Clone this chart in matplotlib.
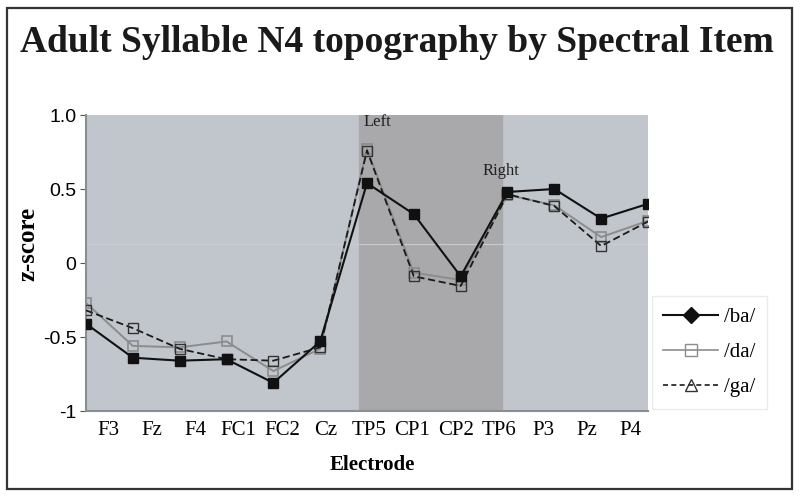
import matplotlib
matplotlib.use("Agg")
import matplotlib.pyplot as plt
from matplotlib.lines import Line2D
from matplotlib.patches import Rectangle

electrodes = ["F3", "Fz", "F4", "FC1", "FC2", "Cz", "TP5", "CP1", "CP2", "TP6", "P3", "Pz", "P4"]
ba = [-0.41, -0.64, -0.66, -0.65, -0.81, -0.53, 0.54, 0.33, -0.09, 0.48, 0.50, 0.30, 0.40]
da = [-0.27, -0.56, -0.57, -0.53, -0.73, -0.58, 0.77, -0.065, -0.115, 0.46, 0.39, 0.175, 0.285]
ga = [-0.32, -0.44, -0.58, -0.65, -0.66, -0.57, 0.76, -0.09, -0.155, 0.465, 0.385, 0.115, 0.28]
yticks = [-1, -0.5, 0, 0.5, 1.0]
yticklabels = ["-1", "-0.5", "0", "0.5", "1.0"]
dark_span = (5.83, 8.88)

W, H = 800, 499
fig = plt.figure(figsize=(W / 100, H / 100), dpi=100)
fig.patch.set_facecolor("white")

# outer frame
fig.add_artist(Rectangle((7 / W, 1 - 489 / H), 785 / W, 481 / H, transform=fig.transFigure,
                         fill=False, edgecolor="#333333", linewidth=1.6))

pos = [86 / W, 1 - 411 / H, (648 - 86) / W, (411 - 115) / H]
ax = fig.add_axes(pos)
ax.set_facecolor("#c1c6cd")
x = list(range(len(electrodes)))
ax.set_xlim(0, len(electrodes) - 1)
ax.set_ylim(-1, 1.0)
ax.axvspan(dark_span[0], dark_span[1], color="#a9a9ab", zorder=0)
ax.axhline(0.13, color="#c9cdd3", lw=0.8, zorder=1)

ax.plot(x, da, color="#8c8c8c", lw=1.4, marker="s", ms=7, mfc="none", mec="#8c8c8c", mew=1.2, zorder=3)
ax.plot(x, ga, color="#1a1a1a", lw=1.3, ls=(0, (4, 2)), marker="s", ms=7, mfc="none", mec="#333333", mew=1.0, zorder=3)
ax.plot(x, ba, color="#111111", lw=1.5, marker="s", ms=7, mfc="#111111", mec="#111111", zorder=4)

for s in ["top", "right"]:
    ax.spines[s].set_visible(False)
for s in ["left", "bottom"]:
    ax.spines[s].set_color("#8a8f96")
    ax.spines[s].set_linewidth(1.5)

ax.set_yticks(yticks)
ax.set_yticklabels(yticklabels, fontfamily="Liberation Sans", fontsize=14)
ax.tick_params(axis="y", length=4, color="#555555", pad=3)
ax.set_xticks(x)
ax.set_xticklabels([])
ax.tick_params(axis="x", length=0)

# category labels (slightly compressed as in the original)
lab = fig.add_axes(pos, frameon=False)
lab.set_xlim(-0.506, len(electrodes) - 1 + 0.414)
lab.set_ylim(-1, 1)
lab.set_yticks([])
lab.set_xticks(x)
lab.set_xticklabels(electrodes, fontfamily="Liberation Serif", fontsize=15)
lab.tick_params(axis="x", length=0, pad=7)
lab.patch.set_visible(False)

ax.set_ylabel("z-score", fontfamily="Liberation Serif", fontweight="bold", fontsize=18)
ax.yaxis.set_label_coords(-0.103, 0.564)
ax.yaxis.label.set_va("center")
ax.set_xlabel("Electrode", fontfamily="Liberation Serif", fontweight="bold", fontsize=15)
ax.xaxis.set_label_coords((372 - 86) / 562, -(465 - 411) / 296)
ax.xaxis.label.set_va("center")

ax.text(5.92, 0.955, "Left", fontfamily="Liberation Serif", fontsize=12, color="#222222", va="center", ha="left")
ax.text(8.87, 0.62, "Right", fontfamily="Liberation Serif", fontsize=12, color="#222222", va="center", ha="center")

fig.text(397 / W, 1 - 42 / H, "Adult Syllable N4 topography by Spectral Item", fontfamily="Liberation Serif",
         fontweight="bold", fontsize=27, ha="center", va="center", color="#1a1a1a")

handles = [
    Line2D([], [], color="#111111", lw=1.5, marker="D", ms=8, mfc="#111111", mec="#111111"),
    Line2D([], [], color="#8c8c8c", lw=1.2, marker="s", ms=8, mfc="none", mec="#8c8c8c"),
    Line2D([], [], color="#1a1a1a", lw=1.2, ls=(0, (3, 2)), marker="^", ms=8, mfc="none", mec="#333333"),
]
leg = fig.legend(handles, ["/ba/", "/da/", "/ga/"], loc="upper left", bbox_to_anchor=(652 / W, 1 - 296 / H),
                 borderaxespad=0, frameon=True, fancybox=False, prop={"family": "Liberation Serif", "size": 15},
                 handlelength=2.6, labelspacing=0.75, borderpad=0.55, handletextpad=0.3)
leg.get_frame().set_edgecolor("#e6e6e6")
leg.get_frame().set_linewidth(1.0)

fig.savefig("out.png", dpi=100)
